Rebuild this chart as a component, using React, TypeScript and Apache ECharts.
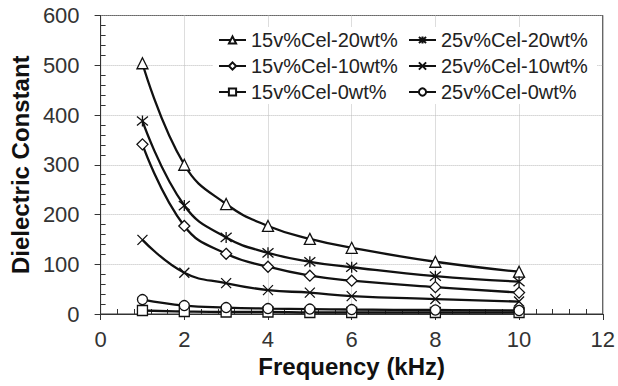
import React, { useEffect, useRef } from "react";
import * as echarts from "echarts";

const freq = [1, 2, 3, 4, 5, 6, 8, 10];
const s15v20 = [504, 300, 221, 177, 151, 133, 105, 85];
const s25v20 = [388, 218, 154, 123, 105, 94, 76, 65];
const s15v10 = [341, 177, 121, 95, 77, 67, 54, 43];
const s25v10 = [149, 83, 62, 48, 43, 36, 30, 25];
const s15v0 = [7, 5, 4, 4, 3, 3, 3, 3];
const s25v0 = [29, 17, 13, 11, 10, 9, 8, 7];

const xTicks = [0, 2, 4, 6, 8, 10, 12];
const yTicks = [0, 100, 200, 300, 400, 500, 600];

const STAR = "path://M0,0L10,10M10,0L0,10M5,-1L5,11";
const CROSS = "path://M0,0L10,10M10,0L0,10";

const seriesDefs = [
  { name: "15v%Cel-20wt%", data: s15v20, symbol: "triangle", size: 11 },
  { name: "25v%Cel-20wt%", data: s25v20, symbol: STAR, size: 11 },
  { name: "15v%Cel-10wt%", data: s15v10, symbol: "diamond", size: 11 },
  { name: "25v%Cel-10wt%", data: s25v10, symbol: CROSS, size: 10 },
  { name: "15v%Cel-0wt%", data: s15v0, symbol: "rect", size: 10 },
  { name: "25v%Cel-0wt%", data: s25v0, symbol: "circle", size: 10 },
];

const FONT = "'Liberation Sans', Arial, sans-serif";
const INK = "#111";

export default function App() {
  const ref = useRef<HTMLDivElement>(null);
  useEffect(() => {
    if (!ref.current) return;
    const chart = echarts.init(ref.current, undefined, { renderer: "svg" });
    const xMin = xTicks[0];
    const xMax = xTicks[xTicks.length - 1];
    const yMin = yTicks[0];
    const yMax = yTicks[yTicks.length - 1];
    const legendText = { fontSize: 20, color: "#222", fontFamily: FONT, lineHeight: 19 };
    chart.setOption({
      animation: false,
      backgroundColor: "#fff",
      textStyle: { fontFamily: FONT },
      grid: {
        left: 97,
        right: 14,
        top: 15.5,
        bottom: 72,
        show: true,
        borderColor: "#333",
        borderWidth: 1,
        backgroundColor: "transparent",
      },
      graphic: [
        {
          type: "rect",
          z: 1,
          shape: { x: 213, y: 27, width: 384, height: 77 },
          style: { fill: "#fff" },
        },
      ],
      legend: [
        {
          orient: "vertical",
          left: 218,
          top: 30,
          padding: 0,
          itemGap: 6,
          itemWidth: 27,
          itemHeight: 9,
          z: 5,
          data: [seriesDefs[0].name, seriesDefs[2].name, seriesDefs[4].name],
          textStyle: legendText,
        },
        {
          orient: "vertical",
          left: 408,
          top: 30,
          padding: 0,
          itemGap: 6,
          itemWidth: 27,
          itemHeight: 9,
          z: 5,
          data: [seriesDefs[1].name, seriesDefs[3].name, seriesDefs[5].name],
          textStyle: legendText,
        },
      ],
      xAxis: [
        {
          type: "value",
          min: xMin,
          max: xMax,
          interval: 2,
          position: "bottom",
          name: "Frequency (kHz)",
          nameLocation: "middle",
          nameGap: 40,
          nameTextStyle: { fontSize: 24, fontWeight: "bold", color: INK, fontFamily: FONT },
          axisLine: { show: true, lineStyle: { color: "#333", width: 1 } },
          axisTick: { show: true, inside: false, length: 6, lineStyle: { color: "#333" } },
          axisLabel: { fontSize: 22, color: "#333", margin: 14, fontFamily: FONT },
          splitLine: { show: true, lineStyle: { color: "#bbb", type: "dotted", width: 1 } },
          minorTick: { show: false },
        },
        {
          type: "value",
          min: xMin,
          max: xMax,
          interval: 2,
          position: "bottom",
          axisLine: { show: false },
          axisTick: { show: true, inside: true, length: 5, lineStyle: { color: "transparent" } },
          axisLabel: { show: false },
          splitLine: { show: false },
          minorTick: { show: true, splitNumber: 5, length: 5, lineStyle: { color: "#333" } },
        },
      ],
      yAxis: [
        {
          type: "value",
          min: yMin,
          max: yMax,
          interval: 100,
          position: "left",
          name: "Dielectric Constant",
          nameLocation: "middle",
          nameRotate: 90,
          nameGap: 60,
          nameTextStyle: { fontSize: 24, fontWeight: "bold", color: INK, fontFamily: FONT },
          axisLine: { show: true, lineStyle: { color: "#333", width: 1 } },
          axisTick: { show: true, inside: false, length: 6, lineStyle: { color: "#333" } },
          axisLabel: { fontSize: 22, color: "#333", margin: 21, fontFamily: FONT },
          splitLine: { show: true, lineStyle: { color: "#bbb", type: "dotted", width: 1 } },
          minorTick: { show: false },
        },
        {
          type: "value",
          min: yMin,
          max: yMax,
          interval: 100,
          position: "left",
          axisLine: { show: false },
          axisTick: { show: true, inside: true, length: 5, lineStyle: { color: "transparent" } },
          axisLabel: { show: false },
          splitLine: { show: false },
          minorTick: { show: true, splitNumber: 5, length: 5, lineStyle: { color: "#333" } },
        },
      ],
      series: seriesDefs.map((s) => ({
        name: s.name,
        type: "line",
        xAxisIndex: 0,
        yAxisIndex: 0,
        smooth: 0.45,
        symbol: s.symbol,
        symbolSize: s.size,
        showAllSymbol: true,
        z: 3,
        lineStyle: { color: INK, width: 2.3 },
        itemStyle: { color: "#fff", borderColor: INK, borderWidth: 1.3 },
        emphasis: { disabled: true },
        data: freq.map((f, i) => [f, s.data[i]]),
      })),
    });
    return () => chart.dispose();
  }, []);
  return (
    <div
      ref={ref}
      style={{ position: "fixed", left: 0, top: 0, width: 618, height: 386 }}
    />
  );
}
